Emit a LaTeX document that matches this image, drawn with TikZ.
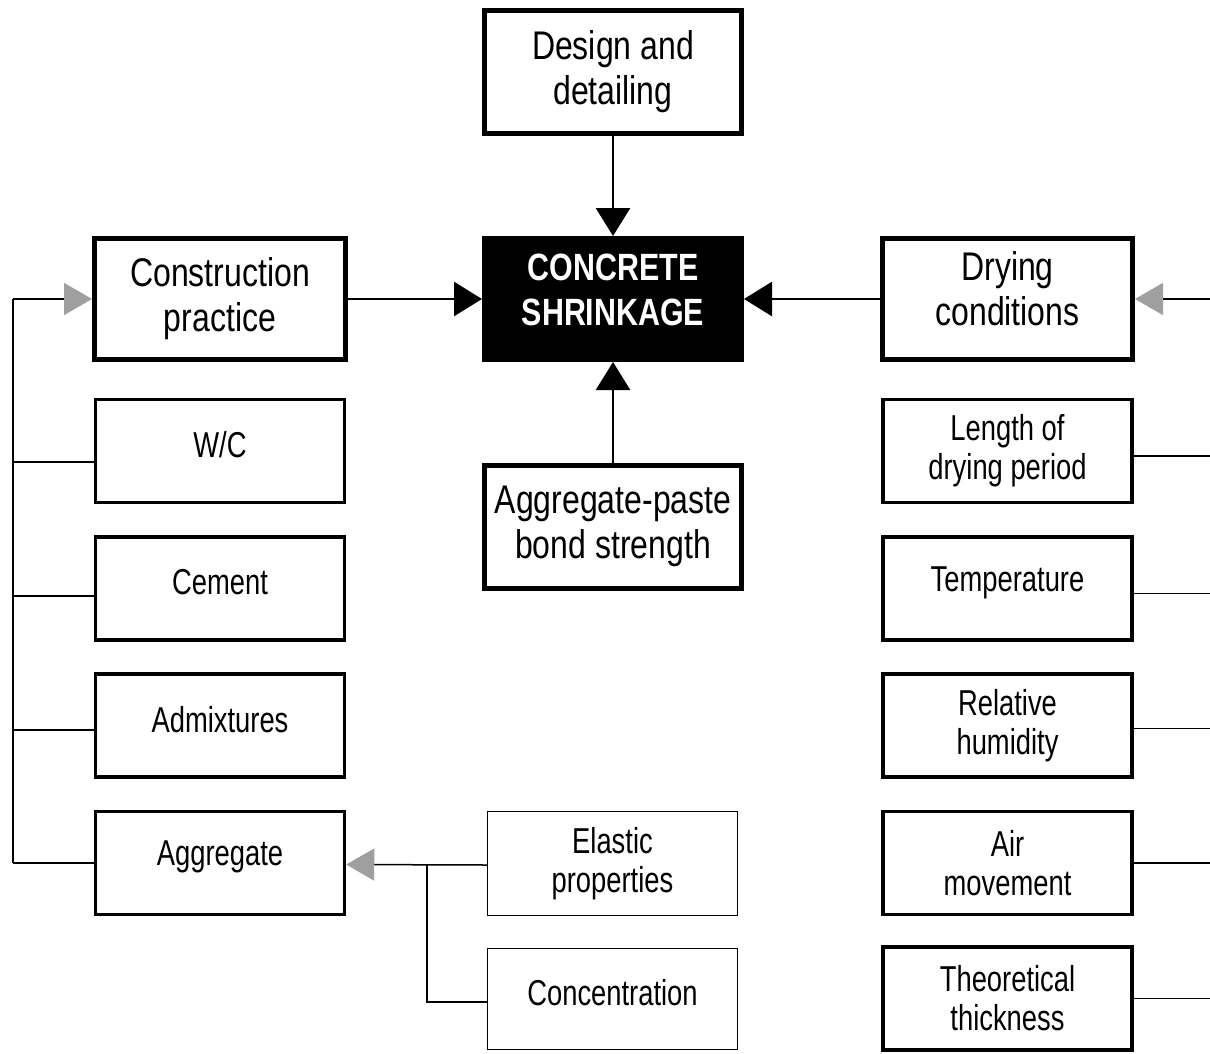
\documentclass[tikz,border=0pt]{standalone}
\usepackage{fontspec}
\newfontfamily\diag[FakeStretch=0.8]{Liberation Sans}
\newfontfamily\diagsm[FakeStretch=0.76]{Liberation Sans}
\usetikzlibrary{arrows.meta,calc}
\newcommand{\upline}[1]{\raisebox{6pt}[\height][\depth]{#1}}
\newcommand{\uptwo}[3]{\raisebox{#1}[\height][\depth]{\begin{tabular}{@{}c@{}}#2\\#3\end{tabular}}}
\begin{document}
\begin{tikzpicture}[x=1pt,y=-1pt,
  bigbox/.style={draw=black,line width=5pt,fill=white,align=center,inner sep=0pt,
    font=\diag\fontsize{40}{45}\selectfont,minimum width=257pt,minimum height=123pt},
  smallbox/.style={draw=black,line width=3.5pt,fill=white,align=center,inner sep=0pt,
    font=\diagsm\fontsize{36}{39}\selectfont,minimum width=249pt,minimum height=103pt},
  thinbox/.style={draw=black,line width=1.5pt,fill=white,align=center,inner sep=0pt,
    font=\diagsm\fontsize{36}{39}\selectfont,minimum width=250pt,minimum height=103pt},
  mainarrow/.style={line width=2.8pt,-{Triangle[length=28pt,width=34pt]}},
  greyarrow/.style={line width=1.5pt,-{Triangle[length=28pt,width=32pt,color=gray!75]}},
  thinline/.style={line width=1.5pt}
]
\useasboundingbox[fill=white] (0,0) rectangle (1210,1053);

% central column
\node[bigbox] (design) at (613,72) {Design and\\detailing};
\node[draw=black,fill=black,line width=2pt,minimum width=260pt,minimum height=124pt,
  text=white,align=center,inner sep=0pt,
  font=\diag\bfseries\fontsize{38}{45}\selectfont] (shrink) at (613,299)
  {\uptwo{5pt}{CONCRETE}{SHRINKAGE}};
\node[bigbox] (bond) at (613,526.5) {Aggregate-paste\\bond strength};

% side heads
\node[bigbox,minimum width=251pt,minimum height=121pt] (constr) at (220,299) {Construction\\practice};
\node[bigbox,minimum width=250pt,minimum height=121pt] (drying) at (1007.5,299)
  {\uptwo{5pt}{Drying}{conditions}};

% left column
\node[smallbox] (wc) at (220,451) {\upline{W/C}};
\node[smallbox] (cement) at (220,588.5) {\upline{Cement}};
\node[smallbox] (admix) at (220,725.5) {\upline{Admixtures}};
\node[smallbox] (aggr) at (220,863) {\upline{Aggregate}};

% right column
\node[smallbox] (length) at (1007.5,451) {Length of\\drying period};
\node[smallbox] (temp) at (1007.5,588.5) {\upline{Temperature}};
\node[smallbox] (rh) at (1007.5,725.5) {Relative\\humidity};
\node[smallbox] (air) at (1007.5,863) {Air\\movement};
\node[smallbox] (theo) at (1007.5,998.5) {Theoretical\\thickness};

% aggregate sub-boxes
\node[thinbox,minimum height=104pt] (elastic) at (612.5,863.5) {Elastic\\properties};
\node[thinbox,minimum height=101pt] (conc) at (612.5,999) {\upline{Concentration}};

% main arrows
\draw[mainarrow] (design.south) -- (shrink.north);
\draw[mainarrow] (bond.north) -- (shrink.south);
\draw[mainarrow] (constr.east) -- (shrink.west);
\draw[mainarrow] (drying.west) -- (shrink.east);

% left trunk
\coordinate (ltop) at (13,299);
\coordinate (lbot) at (13,863);
\draw[greyarrow] (ltop) -- (constr.west);
\draw[thinline] (ltop) -- (lbot);
\draw[thinline] ([yshift=-11pt]wc.west) -- ([yshift=-11pt]wc.west -| ltop);
\draw[thinline] ([yshift=-7.5pt]cement.west) -- ([yshift=-7.5pt]cement.west -| ltop);
\draw[thinline] ([yshift=-4.5pt]admix.west) -- ([yshift=-4.5pt]admix.west -| ltop);
\draw[thinline] (aggr.west) -- (lbot);

% right side (trunk beyond the edge)
\coordinate (rtop) at (1212,299);
\draw[greyarrow] (rtop) -- (drying.east);
\draw[thinline] ([yshift=-5pt]length.east) -- ([yshift=-5pt]length.east -| rtop);
\draw[thinline] ([yshift=-5pt]temp.east) -- ([yshift=-5pt]temp.east -| rtop);
\draw[thinline] ([yshift=-3pt]rh.east) -- ([yshift=-3pt]rh.east -| rtop);
\draw[thinline] (air.east) -- (air.east -| rtop);
\draw[thinline] (theo.east) -- (theo.east -| rtop);

% aggregate sub-branch
\coordinate (ajoin) at (427,865);
\draw[greyarrow] ([yshift=-1.5pt]elastic.west) -- ([yshift=-1.5pt]aggr.east);
\draw[thinline] ([yshift=-3pt]conc.west) -| (ajoin);
\end{tikzpicture}
\end{document}
